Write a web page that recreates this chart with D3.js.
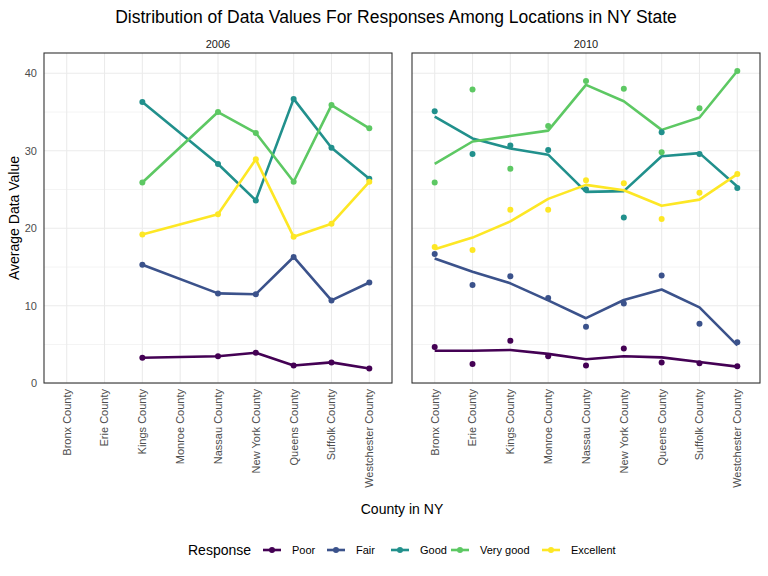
<!DOCTYPE html>
<html>
<head>
<meta charset="utf-8">
<script src="https://cdn.jsdelivr.net/npm/d3@7"></script>
<style>
  body { margin: 0; background: #fff; }
  text { font-family: "Liberation Sans", Arial, sans-serif; }
</style>
</head>
<body>
<svg id="chart"></svg>
<script>
// Data
var counties = ['Bronx County', 'Erie County', 'Kings County', 'Monroe County', 'Nassau County',
  'New York County', 'Queens County', 'Suffolk County', 'Westchester County']
var responses = ['Poor', 'Fair', 'Good', 'Very good', 'Excellent']
var colors = ['#440154', '#3B528B', '#21908C', '#5DC863', '#FDE725']
var yTicks = [0, 10, 20, 30, 40]

// 2006 (null = no data)
var poor2006 = [null, null, 3.3, null, 3.5, 3.95, 2.3, 2.7, 1.9]
var fair2006 = [null, null, 15.3, null, 11.6, 11.5, 16.3, 10.7, 13.0]
var good2006 = [null, null, 36.3, null, 28.3, 23.6, 36.7, 30.4, 26.4]
var veryGood2006 = [null, null, 25.9, null, 35.0, 32.3, 26.0, 35.9, 32.9]
var excellent2006 = [null, null, 19.2, null, 21.8, 28.9, 18.9, 20.6, 26.0]

// 2010 points
var poor2010 = [4.7, 2.5, 5.5, 3.5, 2.3, 4.5, 2.7, 2.6, 2.2]
var fair2010 = [16.7, 12.7, 13.8, 11.0, 7.3, 10.3, 13.9, 7.7, 5.3]
var good2010 = [35.1, 29.6, 30.7, 30.1, 25.0, 21.4, 32.4, 29.6, 25.2]
var veryGood2010 = [25.9, 37.9, 27.7, 33.2, 39.0, 38.0, 29.8, 35.5, 40.3]
var excellent2010 = [17.6, 17.2, 22.4, 22.4, 26.2, 25.8, 21.2, 24.6, 27.0]

// 2010 lines
var poorLine2010 = [4.2, 4.2, 4.3, 3.8, 3.1, 3.5, 3.35, 2.75, 2.15]
var fairLine2010 = [16.1, 14.4, 12.9, 10.7, 8.4, 10.75, 12.1, 9.8, 4.9]
var goodLine2010 = [34.4, 31.6, 30.3, 29.5, 24.7, 24.8, 29.3, 29.7, 25.4]
var veryGoodLine2010 = [28.3, 31.2, 31.9, 32.6, 38.5, 36.4, 32.7, 34.3, 40.3]
var excellentLine2010 = [17.3, 18.8, 20.9, 23.8, 25.6, 24.9, 22.9, 23.7, 27.0]

var panels = [
  { title: '2006', x0: 44, x1: 392,
    points: [poor2006, fair2006, good2006, veryGood2006, excellent2006],
    lines: [poor2006, fair2006, good2006, veryGood2006, excellent2006] },
  { title: '2010', x0: 412, x1: 760,
    points: [poor2010, fair2010, good2010, veryGood2010, excellent2010],
    lines: [poorLine2010, fairLine2010, goodLine2010, veryGoodLine2010, excellentLine2010] }
]

var width = 768
var height = 576
var panelTop = 53
var panelBottom = 383

var svg = d3.select('#chart').attr('width', width).attr('height', height)

var y = d3.scaleLinear().domain([0, 40]).range([383.3, 73.3])

// title
svg.append('text')
  .attr('x', 396).attr('y', 23)
  .attr('text-anchor', 'middle')
  .style('font-size', '17.5px')
  .attr('fill', '#000')
  .text('Distribution of Data Values For Responses Among Locations in NY State')

panels.forEach(function (p, pi) {
  var x = d3.scalePoint().domain(counties).range([p.x0, p.x1]).padding(0.6)
  var g = svg.append('g')

  // minor grid
  d3.range(5, 40, 10).forEach(function (v) {
    g.append('line')
      .attr('x1', p.x0).attr('x2', p.x1)
      .attr('y1', y(v)).attr('y2', y(v))
      .attr('stroke', '#ebebeb').attr('stroke-width', 0.6)
  })
  // major grid
  yTicks.forEach(function (v) {
    g.append('line')
      .attr('x1', p.x0).attr('x2', p.x1)
      .attr('y1', y(v)).attr('y2', y(v))
      .attr('stroke', '#ebebeb').attr('stroke-width', 1.1)
  })
  counties.forEach(function (c) {
    g.append('line')
      .attr('x1', x(c)).attr('x2', x(c))
      .attr('y1', panelTop).attr('y2', panelBottom)
      .attr('stroke', '#ebebeb').attr('stroke-width', 1.1)
  })

  // lines
  var line = d3.line()
    .defined(function (d) { return d.v !== null })
    .x(function (d) { return x(d.c) })
    .y(function (d) { return y(d.v) })

  responses.forEach(function (r, ri) {
    var data = counties.map(function (c, i) { return { c: c, v: p.lines[ri][i] } })
      .filter(function (d) { return d.v !== null })
    g.append('path')
      .datum(data)
      .attr('d', line)
      .attr('fill', 'none')
      .attr('stroke', colors[ri])
      .attr('stroke-width', 2.6)
      .attr('stroke-linejoin', 'round')
  })

  responses.forEach(function (r, ri) {
    var data = counties.map(function (c, i) { return { c: c, v: p.points[ri][i] } })
      .filter(function (d) { return d.v !== null })
    g.selectAll('circle.r' + ri)
      .data(data)
      .enter().append('circle')
      .attr('cx', function (d) { return x(d.c) })
      .attr('cy', function (d) { return y(d.v) })
      .attr('r', 3)
      .attr('fill', colors[ri])
  })

  // border
  g.append('rect')
    .attr('x', p.x0).attr('y', panelTop)
    .attr('width', p.x1 - p.x0).attr('height', panelBottom - panelTop)
    .attr('fill', 'none').attr('stroke', '#333').attr('stroke-width', 1.1)

  // strip label
  g.append('text')
    .attr('x', (p.x0 + p.x1) / 2).attr('y', 48)
    .attr('text-anchor', 'middle')
    .style('font-size', '11px')
    .attr('fill', '#1a1a1a')
    .text(p.title)

  // x tick labels
  counties.forEach(function (c) {
    g.append('text')
      .attr('transform', 'translate(' + x(c) + ',' + 389 + ') rotate(-90)')
      .attr('text-anchor', 'end')
      .attr('dy', '0.35em')
      .style('font-size', '11px')
      .attr('fill', '#4d4d4d')
      .text(c)
  })

  // y tick labels on first panel
  if (pi === 0) {
    yTicks.forEach(function (v) {
      g.append('text')
        .attr('x', 37).attr('y', y(v))
        .attr('dy', '0.35em')
        .attr('text-anchor', 'end')
        .style('font-size', '11px')
        .attr('fill', '#4d4d4d')
        .text(v)
    })
  }
})

// axis titles
svg.append('text')
  .attr('transform', 'translate(19,' + 218 + ') rotate(-90)')
  .attr('text-anchor', 'middle')
  .style('font-size', '14px')
  .attr('fill', '#000')
  .text('Average Data Value')

svg.append('text')
  .attr('x', 402).attr('y', 514)
  .attr('text-anchor', 'middle')
  .style('font-size', '14px')
  .attr('fill', '#000')
  .text('County in NY')

// legend
var legend = svg.append('g').attr('transform', 'translate(0,550)')
legend.append('text')
  .attr('x', 188).attr('y', 0).attr('dy', '0.35em')
  .style('font-size', '14px')
  .attr('fill', '#000')
  .text('Response')
var keyX = [263, 327, 391, 451, 542]
responses.forEach(function (r, ri) {
  var k = legend.append('g').attr('transform', 'translate(' + keyX[ri] + ',0)')
  k.append('line')
    .attr('x1', 0).attr('x2', 18).attr('y1', 0).attr('y2', 0)
    .attr('stroke', colors[ri]).attr('stroke-width', 2.6)
  k.append('circle').attr('cx', 9).attr('cy', 0).attr('r', 3).attr('fill', colors[ri])
  k.append('text')
    .attr('x', 29).attr('y', 0).attr('dy', '0.35em')
    .style('font-size', '11px')
    .attr('fill', '#000')
    .text(r)
})
</script>
</body>
</html>
